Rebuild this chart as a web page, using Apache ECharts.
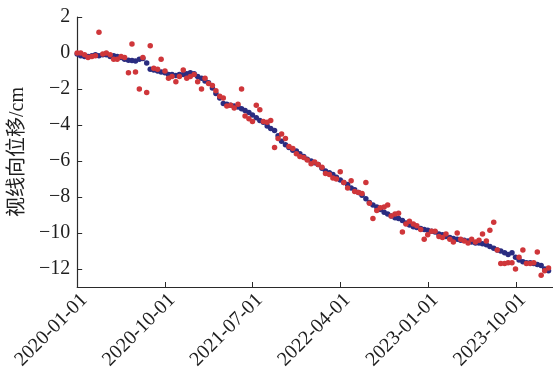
<!DOCTYPE html>
<html>
<head>
<meta charset="utf-8">
<script src="https://cdn.jsdelivr.net/npm/echarts@6/dist/echarts.min.js"></script>
<style>
  html, body { margin: 0; padding: 0; background: #fff; }
  #chart { width: 553px; height: 376px; }
</style>
</head>
<body>
<div id="chart"></div>
<script>
// Acquisition epochs, in days since 2020-01-01
const epochDays = [
  0, 11, 23, 34, 46, 57, 68, 80, 91, 103, 114, 125, 137, 148, 160, 171, 182, 194, 205, 217,
  228, 239, 251, 262, 274, 285, 296, 308, 319, 331, 342, 353, 365, 376, 388, 399, 410, 422, 433, 445,
  456, 467, 479, 490, 502, 513, 524, 536, 547, 559, 570, 581, 593, 604, 616, 627, 638, 650, 661, 673,
  684, 695, 707, 718, 730, 741, 752, 764, 775, 787, 798, 809, 821, 832, 844, 855, 866, 878, 889, 901,
  912, 923, 935, 946, 958, 969, 980, 992, 1003, 1015, 1026, 1037, 1049, 1060, 1072, 1083, 1094, 1106, 1117, 1129,
  1140, 1151, 1163, 1174, 1186, 1197, 1208, 1220, 1231, 1243, 1254, 1265, 1277, 1288, 1300, 1311, 1322, 1334, 1345, 1357,
  1368, 1379, 1391, 1402, 1414, 1425, 1436, 1448, 1459, 1471
];

// Fitted line-of-sight displacement (cm), blue
const fittedLos = [
  -0.05,-0.15,-0.2,-0.2,-0.15,-0.1,-0.15,-0.1,-0.1,-0.2,-0.15,-0.2,-0.25,
  -0.35,-0.4,-0.42,-0.45,-0.35,-0.3,-0.55,-0.9,-0.95,-1.0,-1.05,-1.1,-1.2,-1.2,-1.25,-1.2,-1.2,
  -1.15,-1.1,-1.15,-1.3,-1.4,-1.55,-1.65,-1.95,-2.25,-2.5,
  -2.8,-2.85,-2.9,-2.95,-3.0,-3.1,-3.2,-3.3,-3.45,-3.6,
  -3.75,-3.85,-4.05,-4.2,-4.3,-4.6,-4.9,-5.1,-5.25,-5.4,
  -5.45,-5.6,-5.75,-5.9,-6.0,-6.1,-6.2,-6.4,-6.55,-6.65,
  -6.75,-6.9,-7.05,-7.2,-7.3,-7.5,-7.6,-7.75,-7.9,-8.1,
  -8.3,-8.45,-8.55,-8.7,-8.85,-8.95,-9.05,-9.15,-9.2,-9.3,
  -9.45,-9.55,-9.65,-9.7,-9.75,-9.8,-9.85,-9.9,-9.95,-10.05,
  -10.1,-10.2,-10.25,-10.3,-10.35,-10.4,-10.4,-10.45,-10.5,-10.55,
  -10.55,-10.6,-10.65,-10.75,-10.85,-10.95,-11.0,-11.1,-11.2,-11.1,
  -11.35,-11.5,-11.6,-11.65,-11.65,-11.7,-11.75,-11.8,-12.0,-12.1
];

// Observed line-of-sight displacement (cm), red
const observedLos = [
  0.0,0.0,-0.1,-0.25,-0.2,-0.15,1.15,-0.05,0.0,-0.1,-0.35,-0.35,-0.2,
  -0.25,-1.1,0.5,-1.05,-2.0,-0.25,-2.2,0.4,-0.85,-0.9,-0.35,-1.0,-1.4,-1.3,-1.6,-1.3,-0.95,
  -1.4,-1.3,-1.2,-1.6,-2.0,-1.4,-1.7,-1.8,-2.1,-2.4,
  -2.5,-2.95,-2.9,-3.05,-2.85,-2.0,-3.5,-3.65,-3.8,-2.9,
  -3.15,-3.8,-3.85,-3.75,-5.25,-4.75,-4.5,-4.75,-5.2,-5.3,
  -5.6,-5.75,-5.8,-5.95,-6.15,-6.05,-6.2,-6.35,-6.7,-6.75,
  -6.95,-7.0,-6.6,-7.2,-7.5,-7.1,-7.7,-7.75,-7.8,-7.2,
  -8.35,-9.2,-8.75,-8.6,-8.55,-8.45,-9.05,-8.95,-8.9,-9.95,
  -9.5,-9.35,-9.5,-9.6,-9.8,-10.35,-10.1,-9.9,-9.9,-10.2,
  -10.25,-10.05,-10.35,-10.5,-10.0,-10.35,-10.45,-10.55,-10.35,-10.5,
  -10.4,-10.05,-10.45,-9.85,-9.4,-10.95,-11.7,-11.7,-11.65,-11.65,
  -12.0,-11.35,-10.95,-11.7,-11.7,-11.65,-11.05,-12.35,-12.1,-11.95
];

// Axis ticks (days since 2020-01-01) and their labels
const xTickValues = [0, 274, 547, 821, 1096, 1369];
const xTickLabels = ['2020-01-01','2020-10-01','2021-07-01','2022-04-01','2023-01-01','2023-10-01'];
const yTickValues = [2, 0, -2, -4, -6, -8, -10, -12];

const fittedData = epochDays.map((d, i) => [d, fittedLos[i]]);
const observedData = epochDays.map((d, i) => [d, observedLos[i]]);

const serif = 'Liberation Serif, "Times New Roman", "Noto Sans CJK SC", serif';
const textColor = '#1e1e1e';
const axisColor = '#2a2a2a';

const chart = echarts.init(document.getElementById('chart'), null, { renderer: 'canvas' });
chart.setOption({
  animation: false,
  backgroundColor: '#fff',
  grid: { left: 74, right: 0, top: 17, bottom: 89, containLabel: false },
  xAxis: {
    type: 'value',
    min: 0,
    max: 1485,
    axisLine: { show: true, onZero: false, lineStyle: { color: axisColor, width: 1.2 } },
    axisTick: { show: true, inside: true, length: 5, customValues: xTickValues,
                lineStyle: { color: axisColor } },
    axisLabel: {
      customValues: xTickValues,
      rotate: 45,
      margin: 3,
      verticalAlign: 'top',
      color: textColor,
      fontFamily: serif,
      fontSize: 20,
      formatter: v => {
        const i = xTickValues.indexOf(Math.round(v));
        return i >= 0 ? xTickLabels[i] : '';
      }
    },
    splitLine: { show: false }
  },
  yAxis: {
    type: 'value',
    min: -13,
    max: 2,
    name: '视线向位移/cm',
    nameLocation: 'middle',
    nameGap: 46,
    nameRotate: 90,
    nameTextStyle: { color: textColor, fontFamily: serif, fontSize: 20 },
    axisLine: { show: true, onZero: false, lineStyle: { color: axisColor, width: 1.2 } },
    axisTick: { show: true, inside: true, length: 5, customValues: yTickValues,
                lineStyle: { color: axisColor } },
    axisLabel: {
      customValues: yTickValues,
      margin: 7,
      color: textColor,
      fontFamily: serif,
      fontSize: 20,
      formatter: v => (v < 0 ? '\u2212' + Math.abs(v) : String(v))
    },
    splitLine: { show: false }
  },
  series: [
    {
      name: '拟合值',
      type: 'scatter',
      data: fittedData,
      symbol: 'circle',
      symbolSize: 5.5,
      itemStyle: { color: '#2a2c80', opacity: 1 },
      z: 2
    },
    {
      name: '观测值',
      type: 'scatter',
      data: observedData,
      symbol: 'circle',
      symbolSize: 5.5,
      itemStyle: { color: '#cf363a', opacity: 1 },
      z: 3
    }
  ]
});
</script>
</body>
</html>
